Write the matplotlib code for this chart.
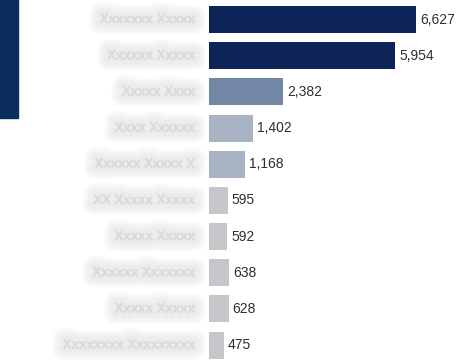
import matplotlib
matplotlib.use("Agg")
import matplotlib.pyplot as plt
import matplotlib.patheffects as pe
from matplotlib.patches import Rectangle

# values, top to bottom
categories = ["Xxxxxxx Xxxxx", "Xxxxxx Xxxxx", "Xxxxx Xxxx", "Xxxx Xxxxxx",
              "Xxxxxx Xxxxx X", "XX Xxxxx Xxxxx", "Xxxxx Xxxxx", "Xxxxxx Xxxxxxx",
              "Xxxxx Xxxxx", "Xxxxxxxx Xxxxxxxxx"]
values = [6627, 5954, 2382, 1402, 1168, 595, 592, 638, 628, 475]
colors = ["#0c2458", "#0c2458", "#7287a6", "#a8b3c3", "#a8b3c3",
          "#c5c6c9", "#c5c6c9", "#c5c6c9", "#c5c6c9", "#c5c6c9"]

W, H = 461, 361
fig = plt.figure(figsize=(W / 100, H / 100), dpi=100)
fig.patch.set_facecolor("white")
ax = fig.add_axes([0, 0, 1, 1])

px = 0.03124          # pixels per unit
x0 = 209              # pixel where bars start
top, pitch = 19.5, 36.17
ax.set_xlim(-x0 / px, (W - x0) / px)
ax.set_ylim((H - top) / pitch, -top / pitch)
ax.axis("off")

ypos = list(range(len(values)))
ax.barh(ypos, values, height=27 / pitch, color=colors, zorder=3)

for y, v in zip(ypos, values):
    ax.text(v + 4 / px, y, f"{v:,}", va="center", ha="left",
            fontsize=10, color="#2e2e2e", family="Liberation Sans")

# blurred category labels
blur = [pe.withStroke(linewidth=lw, foreground="#e4e4e4", alpha=0.22)
        for lw in (16, 12, 9, 6, 3)]
for y, c in zip(ypos, categories):
    ax.text(-14 / px, y, c, va="center", ha="right", fontsize=9,
            color="#dadada", path_effects=blur + [pe.Normal()], zorder=1)

# navy side tab
fig.patches.append(Rectangle((0, 1 - 118 / H), 18 / W, 118 / H,
                             transform=fig.transFigure, color="#0b2d5e", zorder=5))

fig.savefig("out.png", dpi=100)
